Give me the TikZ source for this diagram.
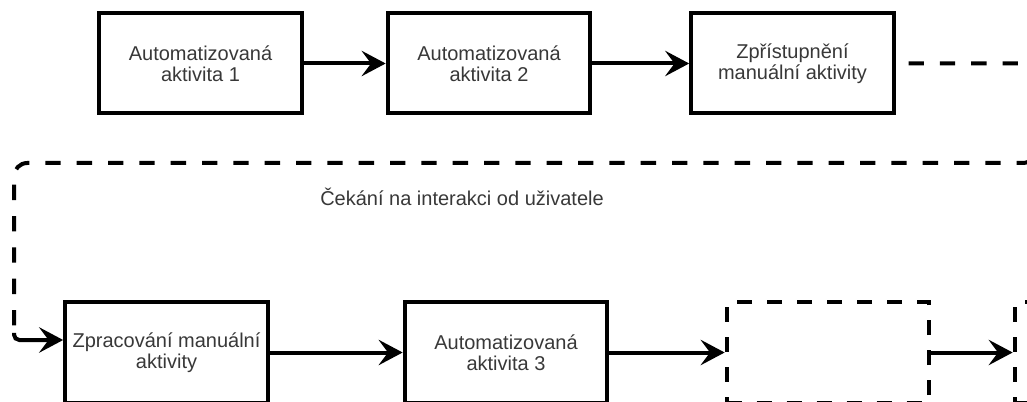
\documentclass[tikz,border=0pt]{standalone}
\usepackage{fontspec}
\setmainfont{Liberation Sans}
\usetikzlibrary{arrows.meta}
\begin{document}
\begin{tikzpicture}[x=0.75pt,y=-0.75pt,
  lbl/.style={font=\fontsize{15pt}{16pt}\selectfont, text=black!78},
  box/.style={lbl, draw, line width=3pt, minimum width=152pt, minimum height=75pt,
    align=center, inner sep=0pt},
  ghost/.style={box, dash pattern=on 11.25pt off 11.25pt},
  flow/.style={line width=3pt, -{Stealth[length=18pt,width=19pt,inset=7pt]}},
  loop/.style={line width=3pt, dash pattern=on 11.5pt off 12pt, dash phase=14pt,
    rounded corners=10pt}]
\useasboundingbox (0,0) rectangle (1027,402);

% upper row
\node[box] (a1) at (200.5,63.5) {Automatizovaná\\aktivita 1};
\node[box] (a2) at (489,63.5) {Automatizovaná\\aktivita 2};
\node[box] (m1) at (792.5,63.5) {Zpřístupnění\\manuální aktivity};

% lower row
\node[box] (m2) at (166.5,352.5) {Zpracování manuální\\aktivity};
\node[box] (a3) at (506,352.5) {Automatizovaná\\aktivita 3};
\node[ghost] (g1) at (828,352.5) {};
\node[ghost] (g2) at (1116,352.5) {};

\draw[flow] (a1) -- (a2);
\draw[flow] (a2) -- (m1);
\draw[flow] (m2) -- (a3);
\draw[flow] (a3) -- (g1);
\draw[flow] (g1) -- (g2);

% waiting loop back to the manual step
\coordinate (r1) at (1036,63.5);
\coordinate (r2) at (1036,163);
\coordinate (l1) at (14,163);
\coordinate (l2) at (14,333);
\coordinate (l3) at (14,340);
\draw[loop] (m1.east) -- (r1) -- (r2) -- (l1) -- (l2);
\draw[flow, rounded corners=4pt] (l2) -- (l3) -- (m2.west |- l3);

\node[lbl] (wait) at (462,197) {Čekání na interakci od uživatele};
\end{tikzpicture}
\end{document}
